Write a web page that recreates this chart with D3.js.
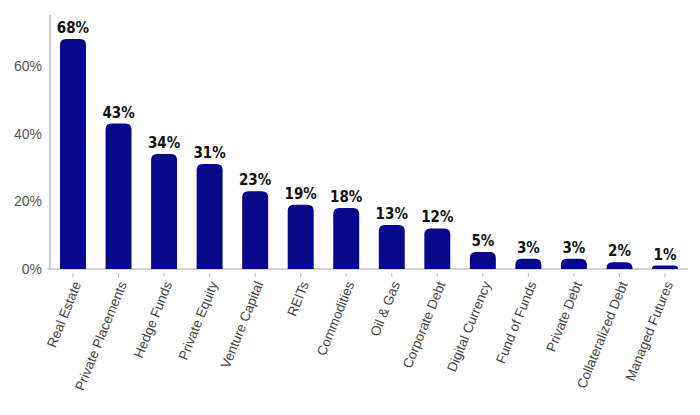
<!DOCTYPE html><html><head><meta charset="utf-8"><script src="https://cdn.jsdelivr.net/npm/d3@7"></script>
<style>body{margin:0;background:#fff}</style></head><body><svg id="c" width="700" height="415"></svg>
<script>
const categories=["Real Estate","Private Placements","Hedge Funds","Private Equity","Venture Capital","REITs","Commodities","Oil & Gas","Corporate Debt","Digital Currency","Fund of Funds","Private Debt","Collateralized Debt","Managed Futures"];
const values=[68,43,34,31,23,19,18,13,12,5,3,3,2,1];
const yTicks=[0,20,40,60];
const svg=d3.select("#c");
const x=d3.scaleBand().domain(categories).range([50,688]).paddingInner(0.43).paddingOuter(0.22);
const y=d3.scaleLinear().domain([0,60]).range([269,66]);
const g=svg.append("g");
g.append("line").attr("x1",50).attr("x2",50).attr("y1",15).attr("y2",269).attr("stroke","#aaa").attr("stroke-width",1.2);
g.append("line").attr("x1",47).attr("x2",688).attr("y1",269).attr("y2",269).attr("stroke","#aaa").attr("stroke-width",1.2);
yTicks.forEach(t=>{g.append("text").attr("x",42).attr("y",y(t)).attr("dy","0.35em").attr("text-anchor","end").attr("fill","#555").attr("font-family","Liberation Sans, Arial").attr("font-size",14).text(t+"%");});
categories.forEach((c,i)=>{
 const bx=x(c),bw=x.bandwidth(),top=y(values[i]),h=269-top,r=Math.min(6,h);
 g.append("path").attr("fill","#08088a").attr("d",`M${bx},269V${top+r}Q${bx},${top} ${bx+r},${top}H${bx+bw-r}Q${bx+bw},${top} ${bx+bw},${top+r}V269Z`);
 g.append("text").attr("x",bx+bw/2).attr("y",top-6).attr("text-anchor","middle").attr("font-family","Liberation Sans Narrow, DejaVu Sans Condensed").attr("font-weight","bold").attr("font-size",15).attr("fill","#111").text(values[i]+"%");
 const cx=bx+bw/2;
 g.append("line").attr("x1",cx).attr("x2",cx).attr("y1",273).attr("y2",277).attr("stroke","#bbb");
 g.append("text").attr("transform",`translate(${cx+4},282) rotate(-68)`).attr("text-anchor","end").attr("dy","0.35em").attr("font-family","Liberation Sans, Arial").attr("font-size",13.5).attr("fill","#444").text(c);
});
</script></body></html>
